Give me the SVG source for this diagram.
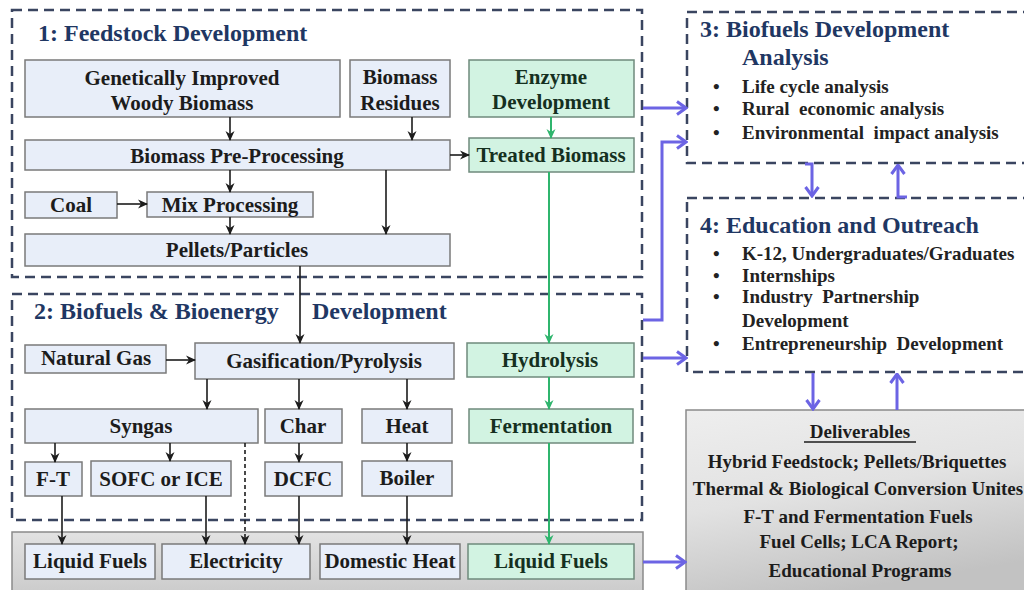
<svg xmlns="http://www.w3.org/2000/svg" width="1024" height="590" viewBox="0 0 1024 590">
<defs>
<style>
.dash{fill:none;stroke:#3a4560;stroke-width:2.5;stroke-dasharray:10 6}
.n{fill:#e8eef9;stroke:#7a7a7a;stroke-width:1.5}
.g{fill:#d2f3e2;stroke:#6f8a7c;stroke-width:1.5}
.t{font-family:"Liberation Serif","Times New Roman",serif;font-weight:bold;font-size:21px;fill:#1c1c1c;text-anchor:middle}
.tg{fill:#15301f}
.h{font-family:"Liberation Serif","Times New Roman",serif;font-weight:bold;font-size:24px;fill:#1f3763}
.b{font-family:"Liberation Serif","Times New Roman",serif;font-weight:bold;font-size:19px;fill:#222}
.d{font-family:"Liberation Serif","Times New Roman",serif;font-weight:bold;font-size:19px;fill:#1c1c1c;text-anchor:middle}
.k{fill:none;stroke:#1c1c1c;stroke-width:1.6;marker-end:url(#ak)}
.kd{fill:none;stroke:#1c1c1c;stroke-width:1.6;stroke-dasharray:4 3;marker-end:url(#ak)}
.gr{fill:none;stroke:#2fb56d;stroke-width:2;marker-end:url(#ag)}
.bl{fill:none;stroke:#6c64e4;stroke-width:3;marker-end:url(#ab)}
</style>
<marker id="ak" viewBox="0 0 10 10" refX="9" refY="5" markerWidth="10" markerHeight="10" markerUnits="userSpaceOnUse" orient="auto"><path d="M0,0.5 L10,5 L0,9.5 L3,5 Z" fill="#1c1c1c"/></marker>
<marker id="ag" viewBox="0 0 10 10" refX="9" refY="5" markerWidth="10" markerHeight="10" markerUnits="userSpaceOnUse" orient="auto"><path d="M0,0.5 L10,5 L0,9.5 L3,5 Z" fill="#2fb56d"/></marker>
<marker id="ab" viewBox="0 0 12 16" refX="10.5" refY="8" markerWidth="12" markerHeight="16" markerUnits="userSpaceOnUse" orient="auto"><path d="M1.5,1.5 L10.5,8 L1.5,14.5" fill="none" stroke="#6c64e4" stroke-width="3"/></marker>
<linearGradient id="gbot" x1="0" y1="0" x2="0" y2="1"><stop offset="0" stop-color="#e2e2e2"/><stop offset="1" stop-color="#cbcbcb"/></linearGradient>
<linearGradient id="gdel" x1="0" y1="0" x2="0.3" y2="1"><stop offset="0" stop-color="#eeeeee"/><stop offset="0.5" stop-color="#e2e2e2"/><stop offset="1" stop-color="#c2c2c2"/></linearGradient>
</defs>
<rect width="1024" height="590" fill="#ffffff"/>

<g id="section1">
<rect class="dash" x="12" y="10" width="630" height="267"/>
<text class="h" x="38" y="41">1: Feedstock Development</text>
</g>
<g id="section2">
<rect class="dash" x="12" y="294" width="630" height="226"/>
<text class="h" x="34" y="319">2: Biofuels &amp; Bioenergy</text>
<text class="h" x="312" y="319">Development</text>
</g>
<g id="section3">
<rect class="dash" x="687" y="12" width="345" height="151"/>
<text class="h" x="700" y="37">3: Biofuels Development</text>
<text class="h" x="742" y="65">Analysis</text>
<text class="b" x="713" y="93">•</text><text class="b" x="742" y="93">Life cycle analysis</text>
<text class="b" x="713" y="115">•</text><text class="b" x="742" y="115" xml:space="preserve">Rural  economic analysis</text>
<text class="b" x="713" y="139">•</text><text class="b" x="742" y="139" xml:space="preserve">Environmental  impact analysis</text>
</g>
<g id="section4">
<rect class="dash" x="687" y="198" width="345" height="174"/>
<text class="h" x="700" y="233">4: Education and Outreach</text>
<text class="b" x="713" y="260">•</text><text class="b" x="742" y="260">K-12, Undergraduates/Graduates</text>
<text class="b" x="713" y="282">•</text><text class="b" x="742" y="282">Internships</text>
<text class="b" x="713" y="303">•</text><text class="b" x="742" y="303" xml:space="preserve">Industry  Partnership</text>
<text class="b" x="742" y="327">Development</text>
<text class="b" x="713" y="350">•</text><text class="b" x="742" y="350" xml:space="preserve">Entrepreneurship  Development</text>
</g>
<g id="deliverables">
<rect x="686" y="410" width="345" height="190" fill="url(#gdel)" stroke="#8a8a8a" stroke-width="1.5"/>
<text class="d" x="860" y="438" font-size="20">Deliverables</text>
<line x1="804" y1="442" x2="916" y2="442" stroke="#1c1c1c" stroke-width="1.5"/>
<text class="d" x="857" y="468">Hybrid Feedstock; Pellets/Briquettes</text>
<text class="d" x="858" y="495" font-size="18.5">Thermal &amp; Biological Conversion Unites</text>
<text class="d" x="858" y="523">F-T and Fermentation Fuels</text>
<text class="d" x="859" y="548">Fuel Cells; LCA Report;</text>
<text class="d" x="860" y="577">Educational Programs</text>
</g>
<g id="outputs">
<rect x="12" y="532" width="631" height="62" fill="url(#gbot)" stroke="#8a8a8a" stroke-width="1.5"/>
</g>

<g id="n-gen"><rect class="n" x="25" y="60" width="315" height="57"/><text class="t" x="182" y="85">Genetically Improved</text><text class="t" x="182" y="110">Woody Biomass</text></g>
<g id="n-res"><rect class="n" x="350" y="60" width="100" height="57"/><text class="t" x="400" y="84">Biomass</text><text class="t" x="400" y="110">Residues</text></g>
<g id="n-enz"><rect class="g" x="469" y="60" width="165" height="57"/><text class="t tg" x="551" y="84">Enzyme</text><text class="t tg" x="551" y="109">Development</text></g>
<g id="n-pre"><rect class="n" x="25" y="140" width="425" height="30"/><text class="t" x="237" y="163">Biomass Pre-Processing</text></g>
<g id="n-treated"><rect class="g" x="469" y="138" width="165" height="34"/><text class="t tg" x="551" y="162">Treated Biomass</text></g>
<g id="n-coal"><rect class="n" x="25" y="192" width="92" height="26"/><text class="t" x="71" y="212">Coal</text></g>
<g id="n-mix"><rect class="n" x="147" y="192" width="166" height="25"/><text class="t" x="230" y="212">Mix Processing</text></g>
<g id="n-pellets"><rect class="n" x="25" y="234" width="425" height="32"/><text class="t" x="237" y="257">Pellets/Particles</text></g>
<g id="n-natgas"><rect class="n" x="25" y="345" width="141" height="28"/><text class="t" x="96" y="365">Natural Gas</text></g>
<g id="n-gasif"><rect class="n" x="195" y="343" width="259" height="36"/><text class="t" x="324" y="368">Gasification/Pyrolysis</text></g>
<g id="n-hydro"><rect class="g" x="467" y="343" width="167" height="34"/><text class="t tg" x="550" y="367">Hydrolysis</text></g>
<g id="n-syngas"><rect class="n" x="25" y="409" width="233" height="34"/><text class="t" x="141" y="433">Syngas</text></g>
<g id="n-char"><rect class="n" x="265" y="409" width="77" height="34"/><text class="t" x="303" y="433">Char</text></g>
<g id="n-heat"><rect class="n" x="362" y="409" width="90" height="34"/><text class="t" x="407" y="433">Heat</text></g>
<g id="n-ferm"><rect class="g" x="469" y="409" width="164" height="34"/><text class="t tg" x="551" y="433">Fermentation</text></g>
<g id="n-ft"><rect class="n" x="25" y="462" width="57" height="34"/><text class="t" x="53" y="486">F-T</text></g>
<g id="n-sofc"><rect class="n" x="91" y="461" width="140" height="35"/><text class="t" x="161" y="486">SOFC or ICE</text></g>
<g id="n-dcfc"><rect class="n" x="265" y="462" width="77" height="34"/><text class="t" x="303" y="486">DCFC</text></g>
<g id="n-boiler"><rect class="n" x="362" y="461" width="90" height="35"/><text class="t" x="407" y="485">Boiler</text></g>
<g id="n-lf1"><rect class="n" x="25" y="544" width="130" height="35"/><text class="t" x="90" y="568">Liquid Fuels</text></g>
<g id="n-elec"><rect class="n" x="162" y="544" width="148" height="35"/><text class="t" x="236" y="568">Electricity</text></g>
<g id="n-dom"><rect class="n" x="320" y="544" width="140" height="35"/><text class="t" x="390" y="568">Domestic Heat</text></g>
<g id="n-lf2"><rect class="g" x="468" y="544" width="166" height="35"/><text class="t tg" x="551" y="568">Liquid Fuels</text></g>

<g id="connectors">
<path class="k" d="M230,117 V140"/>
<path class="k" d="M412,117 V140"/>
<path class="k" d="M450,155 H469"/>
<path class="k" d="M230,170 V192"/>
<path class="k" d="M117,204 H147"/>
<path class="k" d="M230,217 V234"/>
<path class="k" d="M386,170 V234"/>
<path class="k" d="M300,266 V343"/>
<path class="k" d="M166,360 H195"/>
<path class="k" d="M207,379 V409"/>
<path class="k" d="M299,379 V409"/>
<path class="k" d="M407,379 V409"/>
<path class="k" d="M55,443 V462"/>
<path class="k" d="M170,443 V461"/>
<path class="kd" d="M245,443 V544"/>
<path class="k" d="M299,443 V462"/>
<path class="k" d="M407,443 V461"/>
<path class="k" d="M62,496 V544"/>
<path class="k" d="M206,496 V544"/>
<path class="k" d="M299,496 V544"/>
<path class="k" d="M407,496 V544"/>
<path class="gr" d="M551,117 V138"/>
<path class="gr" d="M549,172 V343"/>
<path class="gr" d="M549,377 V409"/>
<path class="gr" d="M549,443 V544"/>
<path class="bl" d="M643,108 H686"/>
<path class="bl" d="M643,320 H662 V142 H686"/>
<path class="bl" d="M643,358 H686"/>
<path class="bl" d="M643,562 H685"/>
<path class="bl" d="M805,164 H812 V196"/>
<path class="bl" d="M907,197 H898 V165"/>
<path class="bl" d="M813,373 V409"/>
<path class="bl" d="M897,410 V374"/>
</g>
</svg>
